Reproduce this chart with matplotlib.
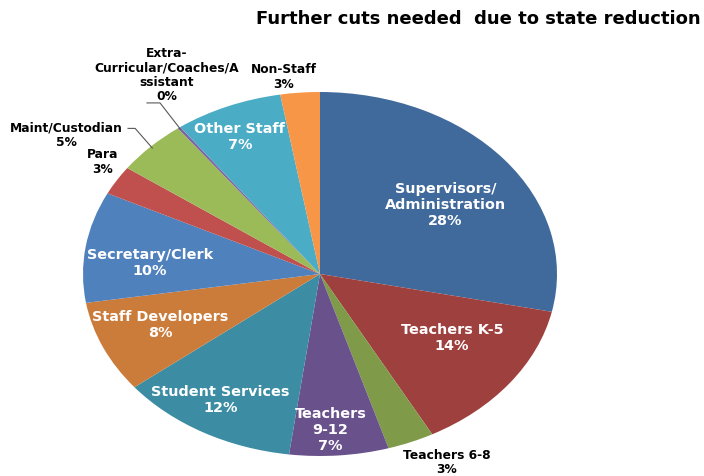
import numpy as np
import matplotlib
matplotlib.use("Agg")
import matplotlib.pyplot as plt

# slice sizes (percent of total)
categories = ["Supervisors/\nAdministration", "Teachers K-5", "Teachers 6-8",
              "Teachers\n9-12", "Student Services", "Staff Developers",
              "Secretary/Clerk", "Para", "Maint/Custodian",
              "Extra-\nCurricular/Coaches/A\nssistant", "Other Staff", "Non-Staff"]
shares = [28.5, 13.9, 3.2, 6.8, 12.3, 8.2, 9.9, 2.6, 4.9, 0.2, 7.4, 2.7]

colors = ["#416A9C", "#9E413E", "#7F9A48", "#69518B", "#3C8DA3", "#CB7B3A",
          "#4F81BD", "#C0504D", "#9BBB59", "#8064A2", "#4BACC6", "#F79646"]

# label placement (axes data units, pie radius = 1) and style
label_pos = [(0.53, 0.385), (0.557, -0.346), (0.536, -1.03), (0.045, -0.852),
             (-0.42, -0.687), (-0.675, -0.275), (-0.717, 0.066), (-0.916, 0.62),
             (-1.07, 0.77), (-0.646, 1.10), (-0.338, 0.758), (-0.152, 1.088)]
inside = [True, True, False, True, True, True, True, False, False, False, True, False]
leader = {8: (-0.81, -0.78), 9: (-0.73, -0.675)}   # slice -> (start x, elbow x)

plt.rcParams['font.family'] = ['DejaVu Sans']

fig = plt.figure(figsize=(7.04, 4.77), dpi=100)
W, H = 704, 477
cx, cy, rx, ry = 320, 275, 237, 182
ax = fig.add_axes([(cx - rx) / W, (H - cy - ry) / H, 2 * rx / W, 2 * ry / H])

wedges, _ = ax.pie(shares, colors=colors, startangle=90, counterclock=False,
                   radius=1, wedgeprops=dict(linewidth=0))
ax.set_aspect('auto')
ax.set_xlim(-1, 1)
ax.set_ylim(-1, 1)
ax.axis('off')

for i, (name, val) in enumerate(zip(categories, shares)):
    txt = f"{name}\n{val:.0f}%"
    x, y = label_pos[i]
    if inside[i]:
        ax.text(x, y, txt, ha='center', va='center', color='white',
                fontsize=10.4, fontweight='bold', linespacing=1.22)
    else:
        ax.text(x, y, txt, ha='center', va='center', color='black',
                fontsize=8.8, fontweight='bold', linespacing=1.15)

for i, (x0, x1) in leader.items():
    w = wedges[i]
    mid = np.deg2rad((w.theta1 + w.theta2) / 2)
    ex, ey = 0.99 * np.cos(mid), 0.99 * np.sin(mid)
    y0 = label_pos[i][1] + (0.03 if i == 8 else -0.16)
    ax.plot([x0, x1, ex], [y0, y0, ey], color='#595959', lw=0.8, clip_on=False)

fig.text(256 / W, 1 - 19 / H, "Further cuts needed  due to state reduction",
         ha='left', va='center', fontsize=13, fontweight='bold')

fig.savefig("out.png", dpi=100)
